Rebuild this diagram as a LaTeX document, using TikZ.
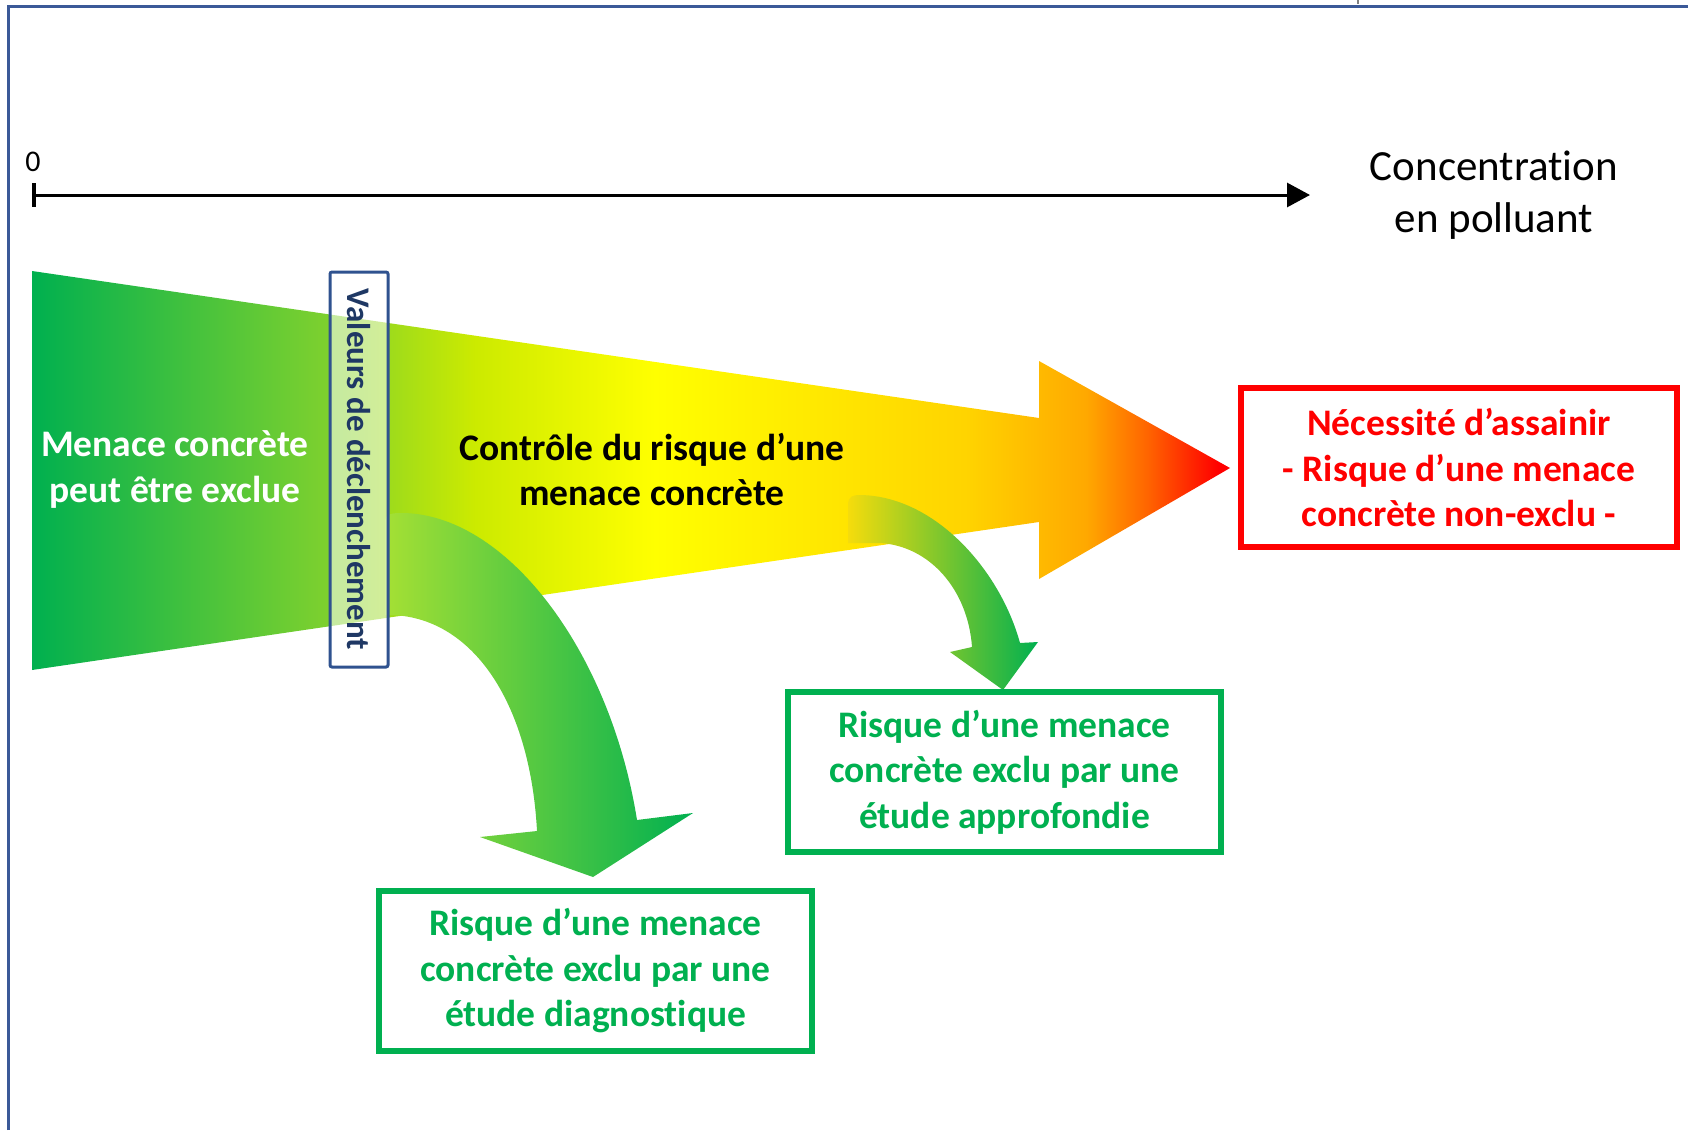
\documentclass[tikz,border=0pt]{standalone}
\usepackage{fontspec}
\setmainfont[Ligatures=NoCommon]{Carlito}
\usetikzlibrary{arrows.meta}
\definecolor{frameblue}{RGB}{59,89,152}
\definecolor{vbblue}{RGB}{47,82,143}
\definecolor{vbtext}{RGB}{31,56,100}
\definecolor{mygreen}{RGB}{0,176,80}
\definecolor{myred}{RGB}{255,0,0}
\definecolor{lgreenA}{RGB}{165,224,52}
\definecolor{lgreenB}{RGB}{245,220,12}
\definecolor{mgreenB}{RGB}{135,202,60}
\pgfdeclarehorizontalshading{bandshade}{100bp}{%
 rgb(0bp)=(0,0.69,0.31);
 rgb(25bp)=(0,0.69,0.31);
 rgb(37.5bp)=(0.5,0.82,0.18);
 rgb(43.5bp)=(0.8,0.92,0.0);
 rgb(51bp)=(1,1,0);
 rgb(64bp)=(1,0.83,0);
 rgb(69bp)=(1,0.66,0);
 rgb(71.5bp)=(1,0.4,0);
 rgb(74.5bp)=(1,0,0);
 rgb(100bp)=(1,0,0)}
\tikzset{
  bigtxt/.style={font=\fontsize{37.5}{45.5}\selectfont\bfseries, align=center, inner sep=0pt},
  greenbox/.style={draw=mygreen, line width=5.5, minimum width=433, minimum height=160, text=mygreen, bigtxt},
  redbox/.style={draw=myred, line width=5.5, minimum width=436, minimum height=159, text=myred, bigtxt},
  vbox/.style={draw=vbblue, line width=3, rounded corners=2, fill=white, fill opacity=0.55, text opacity=1,
    text=vbtext, font=\fontsize{33}{40}\selectfont\bfseries, rotate=-90, minimum width=395, minimum height=58, inner sep=0pt},
}
\begin{document}
\begin{tikzpicture}[x=1pt,y=-1pt]
\useasboundingbox (0,0) rectangle (1688,1130);
% frame
\draw[frameblue, line width=3] (8,1130) -- (8,6) -- (1688,6);
\draw[gray, line width=1.5] (1358,0) -- (1358,4);
% axis
\coordinate (ax0) at (34,195);
\coordinate (ax1) at (1310,195);
\draw[line width=3, -{Triangle[length=23,width=24]}] (ax0) -- (ax1);
\draw[line width=3.5] (34,183) -- (34,207);
\node[font=\fontsize{30}{36}\selectfont, inner sep=0pt] (zero) at (33,162) {0};
\node[font=\fontsize{43}{52}\selectfont, align=center, inner sep=0pt] (conc) at (1494,195) {Concentration\\en polluant};
% big band arrow
\path[shading=bandshade] (32,271) -- (1039,418) -- (1039,361) -- (1230,468) -- (1039,579) -- (1039,522) -- (32,670) -- cycle;
% curved arrow 1
\path[left color=lgreenA, right color=mygreen]
  (385,520) .. controls (386,515) and (390,513) .. (400,513)
  .. controls (505,512) and (610,650) .. (637,820)
  -- (693,813) -- (593,877) -- (480,837) -- (537,831)
  .. controls (530,700) and (470,613) .. (385,615) -- cycle;
% curved arrow 2
\path[left color=lgreenB, middle color=mgreenB, right color=mygreen]
  (848,503) .. controls (849,497) and (852,495) .. (860,495)
  .. controls (935,496) and (1000,570) .. (1020,643)
  -- (1038,642) -- (1003,690) -- (950,652) -- (972,647)
  .. controls (968,590) and (930,546) .. (880,543) -- (848,543) -- cycle;
% vertical box
\node[vbox] (vb) at (359,469.5) {Valeurs de déclenchement};
% texts
\node[bigtxt, text=white] (excl) at (175,469.5) {Menace concrète\\peut être exclue};
\node[bigtxt] (ctrl) at (652,469.5) {Contrôle du risque d’une\\menace concrète};
\node[redbox] (red) at (1459,467.5) {Nécessité d’assainir\\- Risque d’une menace\\concrète non-exclu -};
\node[greenbox] (diag) at (595.5,971) {Risque d’une menace\\concrète exclu par une\\étude diagnostique};
\node[greenbox] (appr) at (1004.5,772) {Risque d’une menace\\concrète exclu par une\\étude approfondie};
\end{tikzpicture}
\end{document}
